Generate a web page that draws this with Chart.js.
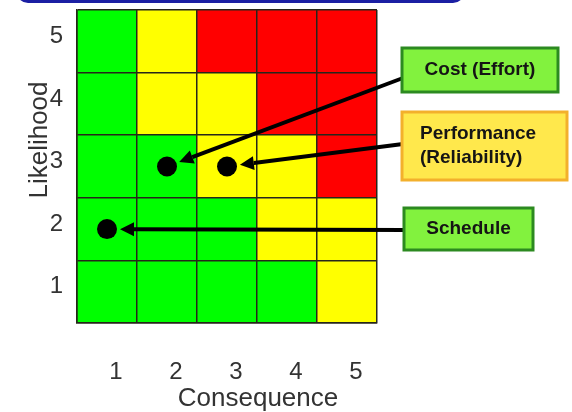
<!DOCTYPE html>
<html>
<head>
<meta charset="utf-8">
<script src="https://cdn.jsdelivr.net/npm/chart.js@4.4.1/dist/chart.umd.min.js"></script>
<style>
  html, body { margin: 0; padding: 0; background: #ffffff; }
  #wrap { width: 572px; height: 412px; position: relative; }
</style>
</head>
<body>
<div id="wrap"><canvas id="risk" width="572" height="412"></canvas></div>
<script>
// Axis categories
const consequenceLabels = ['1', '2', '3', '4', '5'];
const likelihoodLabels = ['5', '4', '3', '2', '1'];   // listed top row first

// Risk zone of every cell, one row per likelihood level, columns = consequence 1..5
const zoneL5 = ['low', 'medium', 'high',   'high',   'high'];
const zoneL4 = ['low', 'medium', 'medium', 'high',   'high'];
const zoneL3 = ['low', 'low',    'medium', 'medium', 'high'];
const zoneL2 = ['low', 'low',    'low',    'medium', 'medium'];
const zoneL1 = ['low', 'low',    'low',    'low',    'medium'];

// Every cell is one likelihood step tall
const cellHeight = [1, 1, 1, 1, 1];

// Assessed risks
const riskNames = [['Cost (Effort)'], ['Performance', '(Reliability)'], ['Schedule']];
const riskConsequence = [2, 3, 1];
const riskLikelihood = [3, 3, 2];

const zoneColors = { low: '#00ff00', medium: '#ffff00', high: '#ff0000' };
const gridColor = '#26261a';

// Callout boxes to the right of the matrix
const callouts = [
  { x: 402, y: 48,  w: 156, h: 44, anchorY: 78,  fill: '#82f23e', stroke: '#2c8a20', align: 'center' },
  { x: 402, y: 112, w: 165, h: 68, anchorY: 144, fill: '#ffe84c', stroke: '#f3b02c', align: 'left' },
  { x: 404, y: 208, w: 129, h: 42, anchorY: 230, fill: '#82f23e', stroke: '#2c8a20', align: 'center' }
];

const rowsBottomUp = [zoneL1, zoneL2, zoneL3, zoneL4, zoneL5];

const cellDatasets = rowsBottomUp.map((row, i) => ({
  type: 'bar',
  label: 'Likelihood ' + (i + 1),
  data: cellHeight,
  backgroundColor: row.map(z => zoneColors[z]),
  borderWidth: 0,
  barPercentage: 1,
  categoryPercentage: 1,
  stack: 'cells',
  xAxisID: 'x',
  yAxisID: 'y',
  order: 1
}));

const riskDataset = {
  type: 'scatter',
  label: 'Risks',
  data: riskConsequence.map((c, i) => ({ x: String(c), y: String(riskLikelihood[i]) })),
  xAxisID: 'x',
  yAxisID: 'yCat',
  pointRadius: 10,
  pointHoverRadius: 10,
  backgroundColor: '#000000',
  borderWidth: 0,
  order: 0
};

// Keep the plot area where the layout padding puts it
function noLabelOverflow(scale) {
  scale.paddingTop = 0;
  scale.paddingBottom = 0;
  scale.paddingLeft = 0;
  scale.paddingRight = 0;
}

// Frame edge, axis titles, callout boxes and arrows
const decorations = {
  id: 'decorations',
  afterDraw(chart) {
    const ctx = chart.ctx;
    const xs = chart.scales.x;
    const ys = chart.scales.yCat;
    ctx.save();

    // bottom edge of the heading frame
    ctx.beginPath();
    ctx.lineWidth = 3;
    ctx.strokeStyle = '#1b1fa3';
    ctx.roundRect(18, -40, 445, 41.5, 10);
    ctx.stroke();

    // axis titles
    ctx.fillStyle = '#333333';
    ctx.font = '26px "Liberation Sans", Arial, sans-serif';
    ctx.textAlign = 'center';
    ctx.textBaseline = 'alphabetic';
    ctx.fillText('Consequence', 258, 406);
    ctx.save();
    ctx.translate(47, 140);
    ctx.rotate(-Math.PI / 2);
    ctx.fillText('Likelihood', 0, 0);
    ctx.restore();

    // callouts and arrows
    riskNames.forEach((lines, i) => {
      const c = callouts[i];
      const px = xs.getPixelForValue(riskConsequence[i] - 1);
      const py = ys.getPixelForValue(likelihoodLabels.indexOf(String(riskLikelihood[i])));
      const ax = c.x + 1, ay = c.anchorY;
      const dx = ax - px, dy = ay - py;
      const len = Math.hypot(dx, dy);
      const ux = dx / len, uy = dy / len;
      const tipX = px + ux * 13, tipY = py + uy * 13;
      const headLen = 14, headW = 7;
      const baseX = tipX + ux * headLen, baseY = tipY + uy * headLen;

      ctx.beginPath();
      ctx.strokeStyle = '#000000';
      ctx.lineWidth = 4;
      ctx.moveTo(ax, ay);
      ctx.lineTo(baseX, baseY);
      ctx.stroke();

      ctx.beginPath();
      ctx.fillStyle = '#000000';
      ctx.moveTo(tipX, tipY);
      ctx.lineTo(baseX - uy * headW, baseY + ux * headW);
      ctx.lineTo(baseX + uy * headW, baseY - ux * headW);
      ctx.closePath();
      ctx.fill();

      ctx.beginPath();
      ctx.rect(c.x, c.y, c.w, c.h);
      ctx.fillStyle = c.fill;
      ctx.fill();
      ctx.lineWidth = 3;
      ctx.strokeStyle = c.stroke;
      ctx.stroke();

      ctx.fillStyle = '#151515';
      ctx.font = 'bold 19px "Liberation Sans", Arial, sans-serif';
      ctx.textBaseline = 'middle';
      const lh = 24;
      const top = c.y + c.h / 2 - (lines.length - 1) * lh / 2;
      lines.forEach((t, k) => {
        if (c.align === 'left') {
          ctx.textAlign = 'left';
          ctx.fillText(t, c.x + 18, top + k * lh);
        } else {
          ctx.textAlign = 'center';
          ctx.fillText(t, c.x + c.w / 2, top + k * lh);
        }
      });
    });
    ctx.restore();
  }
};

new Chart(document.getElementById('risk'), {
  type: 'bar',
  data: {
    labels: consequenceLabels,
    datasets: [riskDataset, ...cellDatasets]
  },
  options: {
    responsive: false,
    animation: false,
    events: [],
    layout: { padding: { left: 0, top: 8, right: 195, bottom: 0 } },
    plugins: { legend: { display: false }, tooltip: { enabled: false } },
    scales: {
      x: {
        type: 'category',
        labels: consequenceLabels,
        offset: true,
        stacked: true,
        position: 'bottom',
        grid: { offset: true, color: gridColor, lineWidth: 1.5, drawTicks: false, z: 1 },
        border: { display: true, color: gridColor, width: 1.5, z: 1 },
        ticks: {
          color: '#333333',
          font: { family: '"Liberation Sans", Arial, sans-serif', size: 24 },
          padding: 35,
          labelOffset: 9,
          maxRotation: 0
        },
        afterFit(scale) { scale.height = 89; noLabelOverflow(scale); }
      },
      y: {
        type: 'linear',
        display: false,
        stacked: true,
        min: 0,
        max: 5
      },
      yCat: {
        type: 'category',
        labels: likelihoodLabels,
        offset: true,
        position: 'left',
        grid: { offset: true, color: gridColor, lineWidth: 1.5, drawTicks: false, z: 1 },
        border: { display: true, color: gridColor, width: 1.5, z: 1 },
        ticks: {
          color: '#333333',
          font: { family: '"Liberation Sans", Arial, sans-serif', size: 24 },
          padding: 14,
          labelOffset: -5
        },
        afterFit(scale) { scale.width = 77; noLabelOverflow(scale); }
      }
    }
  },
  plugins: [decorations]
});
</script>
</body>
</html>
